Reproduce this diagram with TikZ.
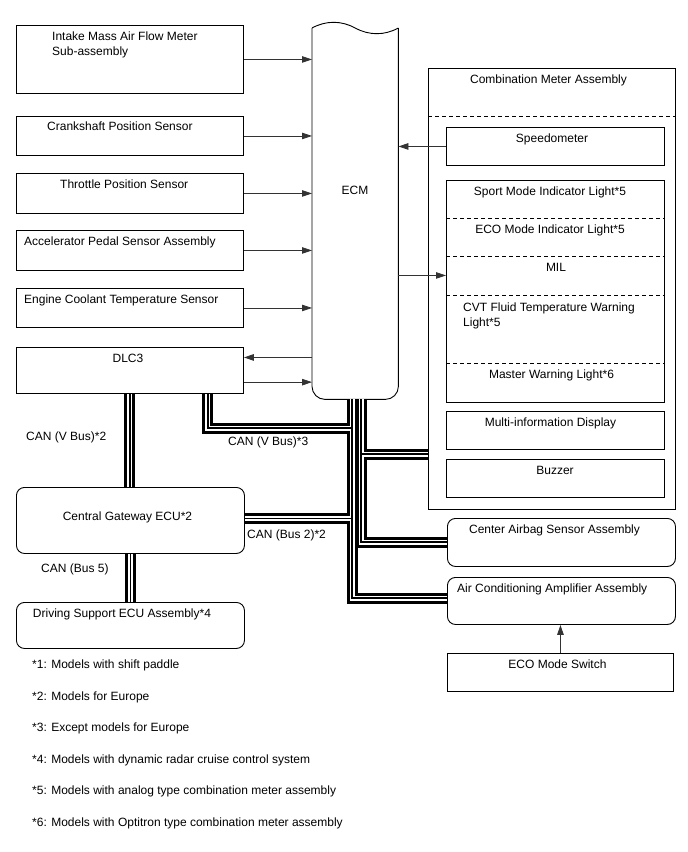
\documentclass[tikz,border=0pt]{standalone}
\usepackage{fontspec}
\setmainfont{Liberation Sans}
\usetikzlibrary{arrows.meta}

\begin{document}
\begin{tikzpicture}[x=1pt,y=-1pt,>={Triangle[length=10pt,width=6.5pt]},
 font=\fontsize{12}{15}\selectfont,
 blk/.style={draw,line width=0.9pt,inner sep=0pt,anchor=north west},
 rblk/.style={blk,rounded corners=8pt},
 txt/.style={inner sep=0pt,anchor=base},
 ltxt/.style={inner sep=0pt,anchor=base west},
 arr/.style={->,line width=0.8pt,black!80},
 sep/.style={line width=0.7pt,dash pattern=on 4pt off 3pt}]
\useasboundingbox (0,0) rectangle (688,852);
% sensors and DLC3 on the left
\node[blk,minimum width=227,minimum height=68] (maf) at (16,25) {};
\node[blk,minimum width=227,minimum height=39] (crk) at (16,116) {};
\node[blk,minimum width=227,minimum height=40] (thr) at (16,173) {};
\node[blk,minimum width=227,minimum height=40] (acc) at (16,230) {};
\node[blk,minimum width=227,minimum height=39] (ect) at (16,288) {};
\node[blk,minimum width=227,minimum height=46] (dlc) at (16,347) {};
\node[rblk,minimum width=228,minimum height=66] (cgw) at (16,487) {};
\node[rblk,minimum width=228,minimum height=46] (dss) at (16,602) {};
\node[txt,anchor=north west,align=left] (maf-t) at (52,31.3) {Intake Mass Air Flow Meter\\Sub-assembly};
\node[ltxt] (crk-t) at (47,130) {Crankshaft Position Sensor};
\node[ltxt] (thr-t) at (60,188) {Throttle Position Sensor};
\node[ltxt] (acc-t) at (24,245) {Accelerator Pedal Sensor Assembly};
\node[ltxt] (ect-t) at (24,303) {Engine Coolant Temperature Sensor};
\node[txt] (dlc-t) at (128,362) {DLC3};
\node[txt] (cgw-t) at (127.5,520) {Central Gateway ECU*2};
\node[txt] (dss-t) at (122,617) {Driving Support ECU Assembly*4};
% ECM
\node[inner sep=0pt,minimum width=86,minimum height=371,anchor=north west] (ecm) at (312,28) {};
\draw[line width=0.9pt] (ecm.north west) .. controls +(14,-7.6) and +(-14,-7.6) .. (ecm.north)
  .. controls +(14,7.6) and +(-14,7.6) .. (ecm.north east);
\draw[line width=0.9pt,rounded corners=13pt] (ecm.north west) -- (ecm.south west) -- (ecm.south east) -- (ecm.north east);
\node[txt] (ecm-t) at (355,194.5) {ECM};
% combination meter
\node[blk,minimum width=247,minimum height=441] (cmb) at (428,68) {};
\draw[sep] ([yshift=-48.7pt]cmb.north west) -- ([yshift=-48.7pt]cmb.north east);
\node[blk,minimum width=218,minimum height=38] (spd) at (446,127) {};
\node[blk,minimum width=218,minimum height=222] (ind) at (446,180) {};
\foreach \d in {38.3,76.7,115,183} \draw[sep] ([yshift=-\d pt]ind.north west) -- ([yshift=-\d pt]ind.north east);
\node[blk,minimum width=218,minimum height=38] (mid) at (446,411) {};
\node[blk,minimum width=218,minimum height=38] (bzr) at (446,459) {};
\node[txt] (cmb-t) at (548.5,83) {Combination Meter Assembly};
\node[txt] (spd-t) at (552,142) {Speedometer};
\node[txt] (ind-t1) at (550,195) {Sport Mode Indicator Light*5};
\node[txt] (ind-t2) at (550,233.3) {ECO Mode Indicator Light*5};
\node[txt] (ind-t3) at (556,271.7) {MIL};
\node[txt,anchor=north west,align=left] (ind-t4) at (463,303) {CVT Fluid Temperature Warning\\Light*5};
\node[txt] (ind-t5) at (551.5,378) {Master Warning Light*6};
\node[txt] (mid-t) at (550.5,426) {Multi-information Display};
\node[txt] (bzr-t) at (555,474) {Buzzer};
% other ECUs on the right
\node[rblk,minimum width=228,minimum height=48] (bag) at (447,518) {};
\node[rblk,minimum width=228,minimum height=47] (ac) at (447,577) {};
\node[blk,minimum width=226,minimum height=38] (eco) at (447,653) {};
\node[txt] (bag-t) at (554.5,533) {Center Airbag Sensor Assembly};
\node[ltxt] (ac-t) at (457,592) {Air Conditioning Amplifier Assembly};
\node[txt] (eco-t) at (557.5,668) {ECO Mode Switch};
% signal lines
\foreach \s in {maf,crk,thr,acc,ect} \draw[arr] (\s.east) -- (\s.east -| ecm.west);
\coordinate (d1) at ([yshift=13pt]dlc.east);
\coordinate (d2) at ([yshift=-11.7pt]dlc.east);
\coordinate (m1) at ([yshift=16pt]ind.west);
\draw[arr] (d1 -| ecm.west) -- (d1);
\draw[arr] (d2) -- (d2 -| ecm.west);
\draw[arr] (spd.west) -- (spd.west -| ecm.east);
\draw[arr] (m1 -| ecm.east) -- (m1);
\draw[arr] (eco.north) -- (eco.north |- ac.south);
% CAN buses, drawn in three layers so the junctions merge
\coordinate (jb) at (352,428);
\coordinate (jd) at (352,598);
\coordinate (jc) at (361,542);
\coordinate (jm) at (361,454);
\coordinate (g1) at ([yshift=2pt]cgw.east);
\foreach \w/\c in {11/black,5/white,1.2/black}
  \draw[line width=\w pt,\c]
    (dlc.south) -- (dlc.south |- cgw.north)
    (cgw.south) -- (cgw.south |- dss.north)
    ([xshift=-36pt]dlc.south east) |- (jb)
    (jb |- ecm.south) -- (jd) -- (jd -| ac.west)
    (g1) -- (g1 -| jb)
    (jc |- ecm.south) -- (jc) -- (jc -| bag.west)
    (jm) -- (jm -| cmb.west);
\node[ltxt] (can1) at (26,440) {CAN (V Bus)*2};
\node[ltxt] (can2) at (228,445) {CAN (V Bus)*3};
\node[ltxt] (can3) at (247,538.5) {CAN (Bus 2)*2};
\node[ltxt] (can4) at (41,572.5) {CAN (Bus 5)};
% notes
\foreach \k/\t in {1/Models with shift paddle,2/Models for Europe,3/Except models for Europe,4/Models with dynamic radar cruise control system,5/Models with analog type combination meter assembly,6/Models with Optitron type combination meter assembly}
  \node[ltxt] (fn\k) at (32,{668.6+31.5*(\k-1)}) {*\k: \t};
\end{tikzpicture}
\end{document}
